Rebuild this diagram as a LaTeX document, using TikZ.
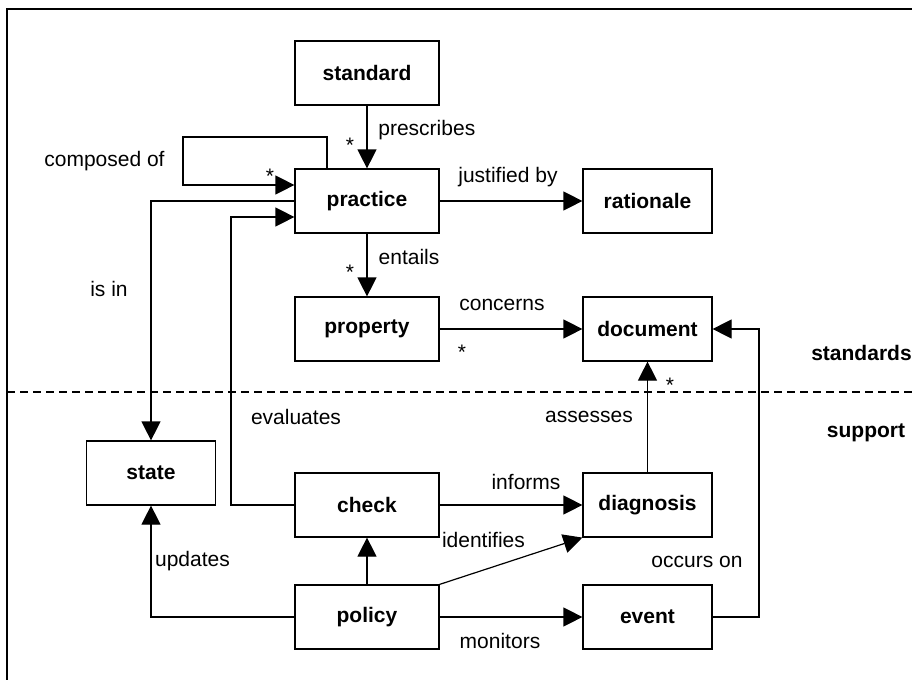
\documentclass[tikz,border=0pt]{standalone}
\usepackage{fontspec}
\setmainfont{Liberation Sans}
\usetikzlibrary{arrows.meta,positioning}

\tikzset{
  entity/.style={draw, line width=0.6pt, minimum width=72pt, minimum height=32pt,
    font=\fontsize{10.5}{12}\selectfont\bfseries},
  narrow/.style={entity, minimum width=64.5pt},
  rel/.style={-{Triangle[length=9.5pt,width=9.5pt]}, line width=0.6pt},
  lbl/.style={inner sep=0pt, font=\fontsize{10.5}{12}\selectfont},
  layer/.style={lbl, font=\fontsize{10.5}{12}\selectfont\bfseries},
}

\begin{document}
\begin{tikzpicture}[x=0.5pt, y=-0.5pt]
    \useasboundingbox (0,0) rectangle (912,680);

    % frame and layer separation
    \draw[line width=0.6pt] (7,680) -- (7,9) -- (912,9);
    \draw[line width=0.6pt, dash pattern=on 4pt off 2.5pt] (7,392) -- (912,392);
    \node[layer] (standards) at (861.5,353) {standards};
    \node[layer] (support) at (866,433) {support};

    % standards layer
    \node[entity] (standard) at (367,73) {standard};
    \node[entity] (practice) at (367,201) {practice};
    \node[narrow] (rationale) at (647.5,201) {rationale};
    \node[entity] (property) at (367,329) {property};
    \node[narrow] (document) at (647.5,329) {document};

    % support layer
    \node[narrow] (state) at (151,473) {state};
    \node[entity] (check) at (367,505) {check};
    \node[narrow] (diagnosis) at (647.5,505) {diagnosis};
    \node[entity] (policy) at (367,617) {policy};
    \node[narrow] (event) at (647.5,617) {event};

    % bends
    \coordinate (loopcorner) at (183,137);
    \coordinate (evalcorner) at (231,217);
    \coordinate (occcorner) at (759,329);

    % relations
    \draw[rel] (standard) -- (practice);
    \node[lbl, anchor=west] (prescribes) at (378,130) {prescribes};
    \node[lbl] (mPrescribes) at (350,145) {*};

    \draw[rel] ([xshift=-20pt]practice.north) |- (loopcorner) |- ([yshift=8pt]practice.west);
    \node[lbl, anchor=east] (composed) at (165,161) {composed of};
    \node[lbl] (mComposed) at (270,176) {*};

    \draw[rel] (practice.west) -| (state.north);
    \node[lbl] (isin) at (109,289) {is in};

    \draw[rel] (check.west) -| (evalcorner) -- ([yshift=-8pt]practice.west);
    \node[lbl] (evaluates) at (296,417) {evaluates};

    \draw[rel] (practice) -- (rationale);
    \node[lbl] (justified) at (508,177) {justified by};

    \draw[rel] (practice) -- (property);
    \node[lbl] (entails) at (409,257) {entails};
    \node[lbl] (mEntails) at (350,272) {*};

    \draw[rel] (property) -- (document);
    \node[lbl] (concerns) at (502,305) {concerns};
    \node[lbl] (mConcerns) at (462,352) {*};

    \draw[rel] (diagnosis) -- (document);
    \node[lbl] (assesses) at (589,417) {assesses};
    \node[lbl] (mAssesses) at (670,385) {*};

    \draw[rel] (event.east) -| (occcorner) -- (document.east);
    \node[lbl] (occurs) at (697,562) {occurs on};

    \draw[rel] (check) -- (diagnosis);
    \node[lbl] (informs) at (526,482) {informs};

    \draw[rel] (policy.north east) -- (diagnosis.south west);
    \node[lbl] (identifies) at (483.5,540) {identifies};

    \draw[rel] (policy) -- (check);

    \draw[rel] (policy.west) -| (state.south);
    \node[lbl] (updates) at (192.5,561) {updates};

    \draw[rel] (policy) -- (event);
    \node[lbl] (monitors) at (500,641) {monitors};
\end{tikzpicture}
\end{document}
